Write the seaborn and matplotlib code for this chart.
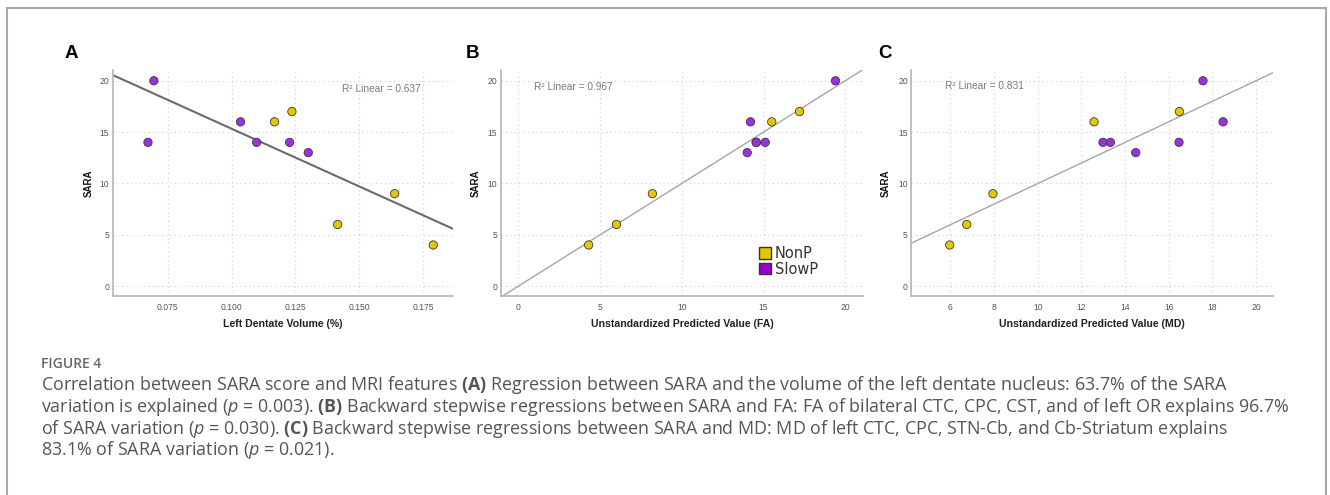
import numpy as np
import pandas as pd
import matplotlib
matplotlib.use("Agg")
import matplotlib.pyplot as plt
from matplotlib.patches import Patch
from matplotlib.lines import Line2D
import seaborn as sns

# ---------------- data ----------------
groups = ["NonP", "SlowP"]
group_colors = ["#E3C800", "#9B30E0"]
legend_colors = ["#E3C800", "#9A00D0"]

# Panel A: Left dentate volume (%)
x_a = [0.0696, 0.0673, 0.1035, 0.1098, 0.1227, 0.1300, 0.1168, 0.1236, 0.1415, 0.1638, 0.1789]
sara_a = [20, 14, 16, 14, 14, 13, 16, 17, 6, 9, 4]
group_a = ["SlowP"] * 6 + ["NonP"] * 5

# Panel B: predicted value (FA)
x_b = [19.4, 14.2, 14.55, 14.55, 15.1, 14.0, 15.5, 17.2, 8.2, 6.0, 4.3]
sara_b = [20, 16, 14, 14, 14, 13, 16, 17, 9, 6, 4]
group_b = ["SlowP"] * 6 + ["NonP"] * 5

# Panel C: predicted value (MD)
x_c = [17.57, 18.49, 12.99, 13.33, 16.47, 14.49, 12.58, 16.49, 7.95, 6.75, 5.97]
sara_c = [20, 16, 14, 14, 14, 13, 16, 17, 9, 6, 4]
group_c = ["SlowP"] * 6 + ["NonP"] * 5

panel_letters = ["A", "B", "C"]
x_labels = ["Left Dentate Volume (%)", "Unstandardized Predicted Value (FA)",
            "Unstandardized Predicted Value (MD)"]
r2_labels = ["R\u00b2 Linear = 0.637", "R\u00b2 Linear = 0.967", "R\u00b2 Linear = 0.831"]
x_ticks_a = [0.075, 0.100, 0.125, 0.150, 0.175]
x_tick_labels_a = ["0.075", "0.100", "0.125", "0.150", "0.175"]
x_ticks_b = [0, 5, 10, 15, 20]
x_ticks_c = [6, 8, 10, 12, 14, 16, 18, 20]
y_ticks = [0, 5, 10, 15, 20]

caption_title = "FIGURE 4"
caption_lines = [
    r"Correlation between SARA score and MRI features $\mathbf{(A)}$ Regression between SARA and the volume of the left dentate nucleus: 63.7% of the SARA",
    r"variation is explained ($\mathit{p}$ = 0.003). $\mathbf{(B)}$ Backward stepwise regressions between SARA and FA: FA of bilateral CTC, CPC, CST, and of left OR explains 96.7%",
    r"of SARA variation ($\mathit{p}$ = 0.030). $\mathbf{(C)}$ Backward stepwise regressions between SARA and MD: MD of left CTC, CPC, STN-Cb, and Cb-Striatum explains",
    r"83.1% of SARA variation ($\mathit{p}$ = 0.021).",
]

# ---------------- style ----------------
sns.set_style("white")
plt.rcParams["font.family"] = ["Liberation Sans", "DejaVu Sans"]
plt.rcParams["mathtext.fontset"] = "custom"
plt.rcParams["mathtext.rm"] = "Open Sans"
plt.rcParams["mathtext.bf"] = "Open Sans:bold"
plt.rcParams["mathtext.it"] = "Open Sans:italic"

W, H = 1330, 495
fig = plt.figure(figsize=(W / 100, H / 100), dpi=100)

def frac_box(left, right, top, bottom):
    return [left / W, 1 - bottom / H, (right - left) / W, (bottom - top) / H]

axes_boxes = [
    frac_box(112.7, 452.7, 70, 296),
    frac_box(500.7, 863.3, 70, 296),
    frac_box(911.3, 1273.3, 70, 296),
]
xlims = [(0.0535, 0.1865), (-1.08, 21.1), (4.21, 20.79)]
ylim = (-0.97, 21.05)
datasets = [(x_a, sara_a, group_a), (x_b, sara_b, group_b), (x_c, sara_c, group_c)]
xticks_all = [x_ticks_a, x_ticks_b, x_ticks_c]
line_styles = [dict(color="#6b6b6b", lw=1.5), dict(color="#a5a5a5", lw=1.0), dict(color="#a5a5a5", lw=1.0)]
r2_pos = [(0.673, 0.916), (0.092, 0.925), (0.092, 0.931)]
letter_x = [71, 472, 885]

palette = dict(zip(groups, group_colors))
narrow = ["Liberation Sans Narrow", "Liberation Sans", "DejaVu Sans"]

for i in range(3):
    ax = fig.add_axes(axes_boxes[i])
    xs, ys, gs = datasets[i]
    df = pd.DataFrame({"x": xs, "SARA": ys, "group": gs})
    ax.set_xlim(*xlims[i])
    ax.set_ylim(*ylim)
    ax.set_xticks(xticks_all[i])
    if i == 0:
        ax.set_xticklabels(x_tick_labels_a)
    ax.set_yticks(y_ticks)
    ax.grid(True, linestyle=(0, (1, 2.5)), color="#d6d6d6", lw=0.9)
    ax.set_axisbelow(True)
    sns.regplot(data=df, x="x", y="SARA", ax=ax, scatter=False, ci=None,
                truncate=False, line_kws=line_styles[i])
    sns.scatterplot(data=df, x="x", y="SARA", hue="group", palette=palette,
                    hue_order=groups, s=36, edgecolor="#3a3a3a", linewidth=0.6,
                    legend=False, ax=ax, zorder=3)
    ax.set_xlim(*xlims[i])
    ax.set_ylim(*ylim)
    for side in ["top", "right"]:
        ax.spines[side].set_visible(False)
    for side in ["left", "bottom"]:
        ax.spines[side].set_color("#b5b5b5")
        ax.spines[side].set_linewidth(1.2)
    ax.tick_params(axis="both", length=0, labelsize=6.2, labelcolor="#555555")
    ax.tick_params(axis="x", pad=5)
    ax.tick_params(axis="y", pad=2.5)
    for lab in ax.get_xticklabels() + ax.get_yticklabels():
        lab.set_family(narrow)
    ax.set_xlabel(x_labels[i], fontsize=7.6, fontweight="bold", color="#222222", family=narrow)
    ax.set_ylabel("SARA", fontsize=7, fontweight="bold", color="#111111")
    ax.xaxis.set_label_coords(0.5, -0.102)
    ax.yaxis.set_label_coords(-0.056, 0.5)
    ax.text(r2_pos[i][0], r2_pos[i][1], r2_labels[i], transform=ax.transAxes,
            fontsize=7.3, color="#7a7a7a", va="center", ha="left", family=narrow)
    fig.text(letter_x[i] / W, 1 - 54 / H, panel_letters[i], fontsize=13.5,
             fontweight="bold", color="black", ha="center", va="center")
    if i == 1:
        handles = [Patch(facecolor=legend_colors[k], edgecolor="#333333", linewidth=1.0)
                   for k in range(2)]
        leg = ax.legend(handles, groups, loc="upper left",
                        bbox_to_anchor=(759 / W, 1 - 246 / H), bbox_transform=fig.transFigure,
                        frameon=False, handlelength=0.85, handleheight=0.85,
                        handletextpad=0.25, labelspacing=0.05, borderpad=0, borderaxespad=0,
                        prop={"family": "DejaVu Sans", "size": 10.5})
        for t in leg.get_texts():
            t.set_color("#333333")

# caption
fig.text(41 / W, 1 - 364 / H, caption_title, fontsize=10, color="#666666",
         family="Open Sans", fontweight="semibold", ha="left", va="center")
line_y = [385.5, 407, 428.5, 450]
for ln, yy in zip(caption_lines, line_y):
    fig.text(41 / W, 1 - yy / H, ln, fontsize=12.85, color="#555555",
             family="Open Sans", ha="left", va="center")

# outer frame (open at the bottom)
fx0, fx1, fy0 = 6.7 / W, 1326 / W, 1 - 8 / H
frame_kw = dict(color="#a8a8a8", lw=1.5, transform=fig.transFigure)
fig.add_artist(Line2D([fx0, fx0], [0, fy0], **frame_kw))
fig.add_artist(Line2D([fx0, fx1], [fy0, fy0], **frame_kw))
fig.add_artist(Line2D([fx1, fx1], [fy0, 0], **frame_kw))

fig.savefig("out.png", dpi=100, facecolor="white")
